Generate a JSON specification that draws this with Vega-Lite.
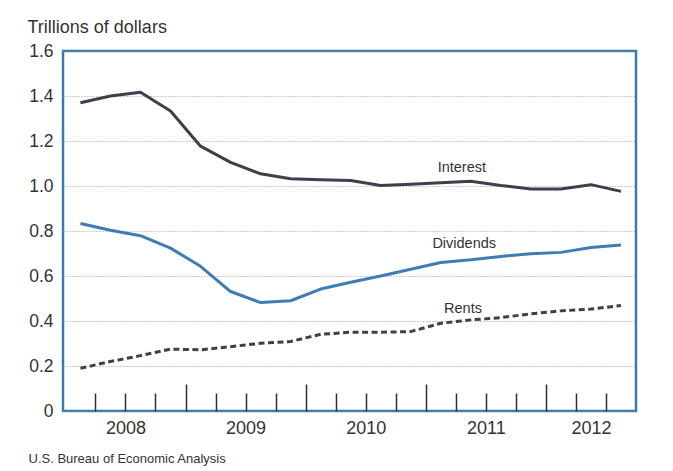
{
  "$schema": "https://vega.github.io/schema/vega-lite/v6.json",
  "width": 573,
  "height": 360,
  "autosize": {"type": "none"},
  "padding": {"left": 63, "top": 51, "right": 37, "bottom": 60},
  "background": "white",
  "config": {
    "font": "Liberation Sans",
    "view": {"stroke": "#3a78ad", "strokeWidth": 2.5}
  },
  "datasets": {
    "series": [
      {"t": 2008.125, "Interest": 1.37, "Dividends": 0.833, "Rents": 0.19},
      {"t": 2008.375, "Interest": 1.40, "Dividends": 0.803, "Rents": 0.22},
      {"t": 2008.625, "Interest": 1.417, "Dividends": 0.779, "Rents": 0.246},
      {"t": 2008.875, "Interest": 1.333, "Dividends": 0.724, "Rents": 0.275},
      {"t": 2009.125, "Interest": 1.177, "Dividends": 0.643, "Rents": 0.272},
      {"t": 2009.375, "Interest": 1.105, "Dividends": 0.531, "Rents": 0.286},
      {"t": 2009.625, "Interest": 1.054, "Dividends": 0.482, "Rents": 0.301},
      {"t": 2009.875, "Interest": 1.032, "Dividends": 0.490, "Rents": 0.309},
      {"t": 2010.125, "Interest": 1.028, "Dividends": 0.542, "Rents": 0.341},
      {"t": 2010.375, "Interest": 1.024, "Dividends": 0.572, "Rents": 0.350},
      {"t": 2010.625, "Interest": 1.002, "Dividends": 0.600, "Rents": 0.350},
      {"t": 2010.875, "Interest": 1.008, "Dividends": 0.630, "Rents": 0.353},
      {"t": 2011.125, "Interest": 1.014, "Dividends": 0.660, "Rents": 0.390},
      {"t": 2011.375, "Interest": 1.021, "Dividends": 0.672, "Rents": 0.405},
      {"t": 2011.625, "Interest": 1.002, "Dividends": 0.687, "Rents": 0.415},
      {"t": 2011.875, "Interest": 0.987, "Dividends": 0.699, "Rents": 0.432},
      {"t": 2012.125, "Interest": 0.987, "Dividends": 0.705, "Rents": 0.445},
      {"t": 2012.375, "Interest": 1.006, "Dividends": 0.727, "Rents": 0.453},
      {"t": 2012.625, "Interest": 0.976, "Dividends": 0.738, "Rents": 0.469}
    ],
    "labels": [
      {"t": 2011.3, "v": 1.082, "label": "Interest"},
      {"t": 2011.32, "v": 0.744, "label": "Dividends"},
      {"t": 2011.31, "v": 0.454, "label": "Rents"}
    ]
  },
  "encoding": {
    "y": {
      "field": "v",
      "type": "quantitative",
      "scale": {"domain": [0, 1.6], "nice": false, "zero": true},
      "axis": {
        "values": [0, 0.2, 0.4, 0.6, 0.8, 1.0, 1.2, 1.4, 1.6],
        "labelExpr": "datum.value == 0 ? '0' : format(datum.value, '.1f')",
        "grid": true,
        "gridDash": [1, 2],
        "gridColor": "#999999",
        "gridWidth": 1,
        "ticks": false,
        "domain": false,
        "labelPadding": 10,
        "labelFontSize": 17.5,
        "labelColor": "#333333",
        "title": "Trillions of dollars",
        "titleAngle": 0,
        "titleAlign": "left",
        "titleBaseline": "alphabetic",
        "titleX": -36,
        "titleY": -19,
        "titleFontSize": 18,
        "titleFontWeight": "normal",
        "titleColor": "#333333"
      }
    }
  },
  "resolve": {"axis": {"x": "independent"}},
  "layer": [
    {
      "data": {"name": "series"},
      "transform": [
        {"fold": ["Interest", "Dividends"], "as": ["series", "v"]}
      ],
      "mark": {"type": "line", "strokeWidth": 3, "strokeJoin": "round"},
      "encoding": {
        "x": {
          "field": "t",
          "type": "quantitative",
          "scale": {"domain": [2007.98, 2012.75], "nice": false, "zero": false},
          "axis": {
            "orient": "bottom",
            "values": [2008.5, 2009.5, 2010.5, 2011.5, 2012.375],
            "labelExpr": "format(floor(datum.value), 'd')",
            "ticks": false,
            "domain": false,
            "grid": false,
            "labelPadding": 8,
            "labelFontSize": 18,
            "labelColor": "#333333",
            "labelOverlap": false,
            "title": "U.S. Bureau of Economic Analysis",
            "titleAlign": "left",
            "titleBaseline": "alphabetic",
            "titleX": -35,
            "titleY": 51,
            "titleFontSize": 13,
            "titleFontWeight": "normal",
            "titleColor": "#333333"
          }
        },
        "detail": {"field": "series"},
        "color": {
          "field": "series",
          "type": "nominal",
          "scale": {"domain": ["Interest", "Dividends"], "range": ["#3f3e4d", "#3d7db4"]},
          "legend": null
        }
      }
    },
    {
      "data": {"name": "series"},
      "transform": [
        {"fold": ["Rents"], "as": ["series", "v"]}
      ],
      "mark": {"type": "line", "strokeWidth": 3, "color": "#3f3e4d", "strokeDash": [6, 3.5]},
      "encoding": {
        "x": {
          "field": "t",
          "type": "quantitative",
          "scale": {"domain": [2007.98, 2012.75], "nice": false, "zero": false},
          "axis": {
            "orient": "bottom",
            "values": [2008.25, 2008.5, 2008.75, 2009.25, 2009.5, 2009.75, 2010.25, 2010.5, 2010.75, 2011.25, 2011.5, 2011.75, 2012.25, 2012.5],
            "labels": false,
            "domain": false,
            "grid": false,
            "ticks": true,
            "tickSize": -18,
            "tickWidth": 1.5,
            "tickColor": "#2e2e38",
            "title": null
          }
        }
      }
    },
    {
      "data": {"name": "labels"},
      "mark": {"type": "text", "fontSize": 14.5, "color": "#333333", "align": "center", "baseline": "middle"},
      "encoding": {
        "x": {
          "field": "t",
          "type": "quantitative",
          "scale": {"domain": [2007.98, 2012.75], "nice": false, "zero": false},
          "axis": {
            "orient": "bottom",
            "values": [2009, 2010, 2011, 2012],
            "labels": false,
            "domain": false,
            "grid": false,
            "ticks": true,
            "tickSize": -27,
            "tickWidth": 1.5,
            "tickColor": "#2e2e38",
            "title": null
          }
        },
        "text": {"field": "label"}
      }
    }
  ]
}
